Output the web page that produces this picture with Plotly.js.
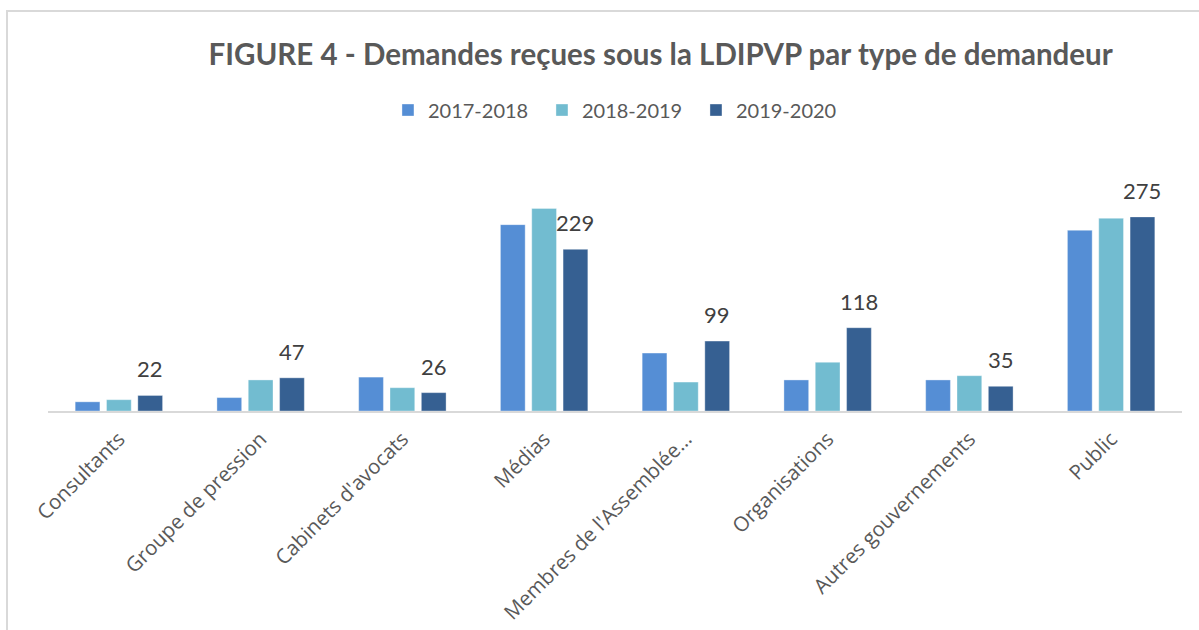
<!DOCTYPE html>
<html>
<head>
<meta charset="utf-8">
<script src="https://cdn.plot.ly/plotly-3.0.1.min.js"></script>
<style>
  html, body { margin: 0; padding: 0; background: #fff; }
  #wrap { position: relative; width: 1199px; height: 630px; overflow: hidden; }
  #frame { position: absolute; left: 6px; top: 10px; width: 1300px; height: 700px;
           border-left: 2px solid #d9d9d9; border-top: 2px solid #d9d9d9; pointer-events: none; }
  #chart { position: absolute; left: 0; top: 0; width: 1199px; height: 630px; }
</style>
</head>
<body>
<div id="wrap">
  <div id="chart"></div>
  <div id="frame"></div>
</div>
<script>
const categories = [
  "Consultants",
  "Groupe de pression",
  "Cabinets d'avocats",
  "Médias",
  "Membres de l'Assemblée…",
  "Organisations",
  "Autres gouvernements",
  "Public"
];
const seriesNames = ["2017-2018", "2018-2019", "2019-2020"];
const values2017 = [13, 19, 48, 264, 82, 44, 44, 256];
const values2018 = [16, 44, 33, 287, 41, 69, 50, 273];
const values2019 = [22, 47, 26, 229, 99, 118, 35, 275];
const colors = ["#558ED5", "#72BCD0", "#366092"];

const fontFam = "Lato, 'Open Sans', sans-serif";
const tickFam = "'Open Sans', sans-serif";

function mk(name, vals, color) {
  return {
    type: "bar",
    name: name,
    x: categories,
    y: vals,
    marker: { color: color, line: { color: "rgba(255,255,255,0.35)", width: 1 } },
    textposition: "none",
    hoverinfo: "skip"
  };
}

const data = [
  mk(seriesNames[0], values2017, colors[0]),
  mk(seriesNames[1], values2018, colors[1]),
  mk(seriesNames[2], values2019, colors[2])
];

// data labels for the 2019-2020 series, placed on the third bar of each group
const plotW = 1199 - 48 - 17;
const bargap = 0.337;
const slot = (plotW / categories.length) * (1 - bargap) / 3;
const annotations = categories.map((c, i) => ({
  x: c,
  y: values2019[i],
  xref: "x",
  yref: "y",
  text: String(values2019[i]),
  showarrow: false,
  xanchor: "center",
  yanchor: "bottom",
  xshift: slot,
  yshift: 11,
  font: { family: fontFam, size: 22, color: "#404040" }
}));

const layout = {
  width: 1199,
  height: 630,
  margin: { l: 48, r: 17, t: 171, b: 219 },
  paper_bgcolor: "rgba(0,0,0,0)",
  plot_bgcolor: "rgba(0,0,0,0)",
  barmode: "group",
  bargap: bargap,
  bargroupgap: 0.21,
  title: {
    text: "<b>FIGURE 4 - Demandes reçues sous la LDIPVP par type de demandeur</b>",
    font: { family: fontFam, size: 29.5, color: "#595959" },
    x: 0.551, xref: "container", xanchor: "center",
    y: 0.913, yref: "container", yanchor: "middle"
  },
  showlegend: true,
  legend: {
    orientation: "h",
    x: 0.2998, xanchor: "left",
    y: 1.254, yanchor: "middle",
    font: { family: fontFam, size: 20, color: "#595959" },
    entrywidth: 109,
    traceorder: "normal"
  },
  annotations: annotations,
  xaxis: {
    type: "category",
    tickangle: -45,
    tickfont: { family: tickFam, size: 20.5, color: "#595959" },
    ticklabelstandoff: 6,
    showline: true,
    linecolor: "#d9d9d9",
    linewidth: 2,
    ticks: "",
    showgrid: false,
    fixedrange: true
  },
  yaxis: {
    range: [0, 340],
    visible: false,
    showgrid: false,
    zeroline: false,
    fixedrange: true
  }
};

Plotly.newPlot("chart", data, layout, { displayModeBar: false, staticPlot: true });
</script>
</body>
</html>
